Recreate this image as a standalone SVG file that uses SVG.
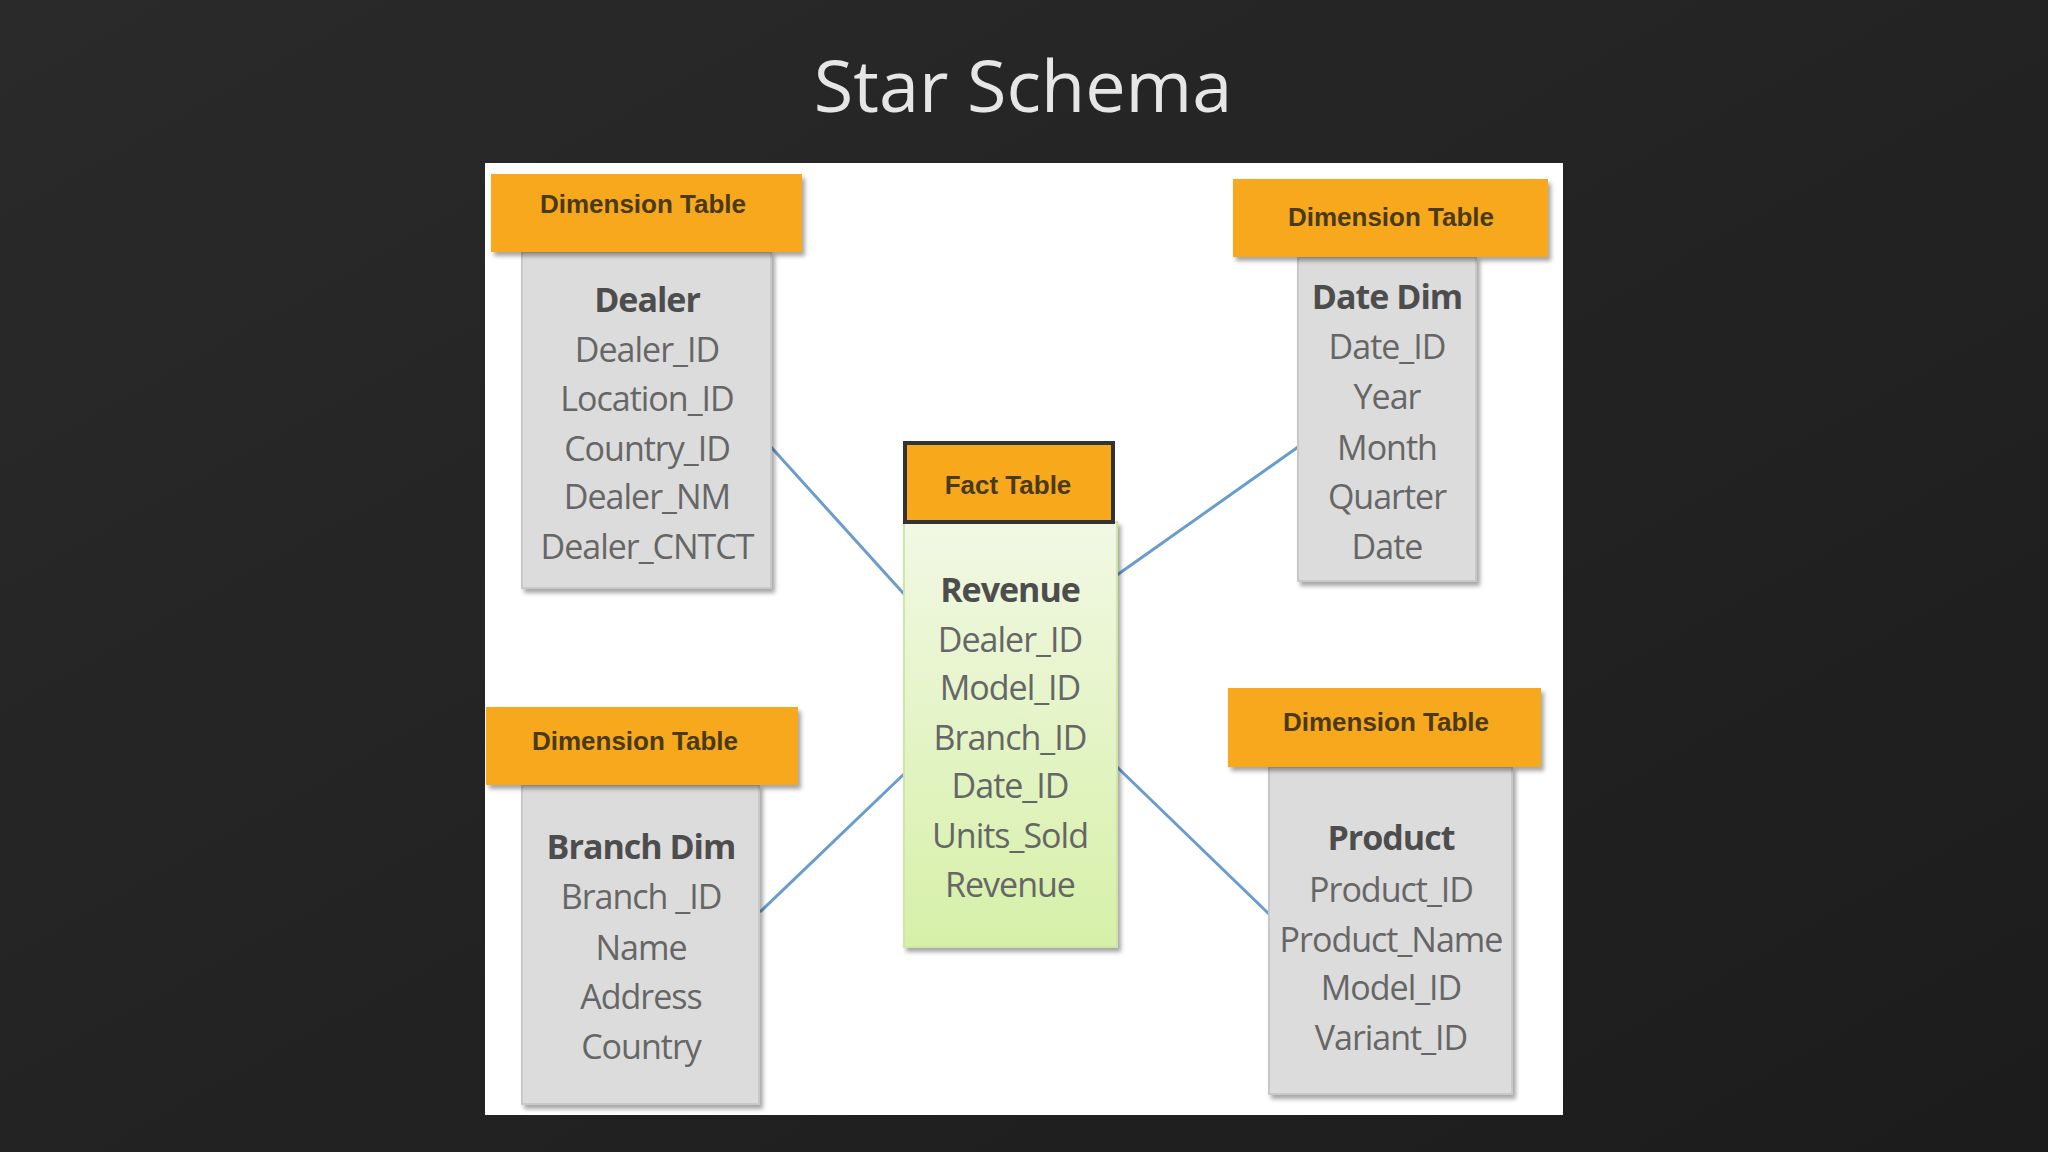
<svg xmlns="http://www.w3.org/2000/svg" width="2048" height="1152" viewBox="0 0 2048 1152">
<defs>
<linearGradient id="bg" x1="0" y1="0" x2="1" y2="1"><stop offset="0" stop-color="#2a2a2a"/><stop offset="1" stop-color="#1c1c1c"/></linearGradient>
<linearGradient id="fact" x1="0" y1="0" x2="0" y2="1"><stop offset="0" stop-color="#f2f8e4"/><stop offset="1" stop-color="#d6f0a8"/></linearGradient>
<filter id="sh" x="-10%" y="-10%" width="130%" height="130%"><feDropShadow dx="3" dy="4" stdDeviation="2" flood-color="#000" flood-opacity="0.35"/></filter>
</defs>
<style>
.hdr{fill:#f7a81b;filter:url(#sh)}
.body{fill:#dcdcdc;stroke:#c8c8c8;stroke-width:2;filter:url(#sh)}
.ht{font-family:"Liberation Sans",Arial,sans-serif;font-size:26px;font-weight:bold;fill:#4a3a1a;text-anchor:middle;dominant-baseline:central}
.t{font-family:"Open Sans","Liberation Sans",sans-serif;font-size:34px;fill:#666;text-anchor:middle;dominant-baseline:central;letter-spacing:-1px}
.b{font-weight:bold;fill:#4d4d4d}
.ln{stroke:#6a9ccc;stroke-width:3;fill:none}
</style>
<rect width="2048" height="1152" fill="url(#bg)"/>
<text x="1023" y="84" font-family="Open Sans,Liberation Sans,sans-serif" font-size="72" fill="#e6e6e6" text-anchor="middle" dominant-baseline="central">Star Schema</text>
<rect x="485" y="163" width="1078" height="952" fill="#ffffff"/>
<g id="connectors">
<line class="ln" x1="771" y1="447" x2="904" y2="594"/>
<line class="ln" x1="1117" y1="575" x2="1298" y2="447"/>
<line class="ln" x1="760" y1="912" x2="904" y2="774"/>
<line class="ln" x1="1117" y1="767" x2="1269" y2="914"/>
</g>
<g id="dealer">
<rect class="body" x="522" y="252" width="249" height="336"/>
<rect class="hdr" x="491" y="174" width="311" height="78"/>
<text class="ht" x="643" y="204">Dimension Table</text>
<text class="t b" x="647" y="299">Dealer</text>
<text class="t" x="647" y="349">Dealer_ID</text>
<text class="t" x="647" y="398">Location_ID</text>
<text class="t" x="647" y="448">Country_ID</text>
<text class="t" x="647" y="496">Dealer_NM</text>
<text class="t" x="647" y="546">Dealer_CNTCT</text>
</g>
<g id="date">
<rect class="body" x="1298" y="257" width="178" height="324"/>
<rect class="hdr" x="1233" y="179" width="315" height="78"/>
<text class="ht" x="1391" y="217">Dimension Table</text>
<text class="t b" x="1387" y="296">Date Dim</text>
<text class="t" x="1387" y="346">Date_ID</text>
<text class="t" x="1387" y="396">Year</text>
<text class="t" x="1387" y="447">Month</text>
<text class="t" x="1387" y="496">Quarter</text>
<text class="t" x="1387" y="546">Date</text>
</g>
<g id="fact">
<rect x="904" y="522" width="213" height="425" fill="url(#fact)" stroke="#cfe6a8" stroke-width="2" filter="url(#sh)"/>
<rect x="905" y="443" width="208" height="79" fill="#f7a81b" stroke="#333" stroke-width="4"/>
<text class="ht" x="1008" y="485">Fact Table</text>
<text class="t b" x="1010" y="589">Revenue</text>
<text class="t" x="1010" y="639">Dealer_ID</text>
<text class="t" x="1010" y="687">Model_ID</text>
<text class="t" x="1010" y="737">Branch_ID</text>
<text class="t" x="1010" y="785">Date_ID</text>
<text class="t" x="1010" y="835">Units_Sold</text>
<text class="t" x="1010" y="884">Revenue</text>
</g>
<g id="branch">
<rect class="body" x="522" y="785" width="237" height="319"/>
<rect class="hdr" x="486" y="707" width="312" height="78"/>
<text class="ht" x="635" y="741">Dimension Table</text>
<text class="t b" x="641" y="846">Branch Dim</text>
<text class="t" x="641" y="896">Branch _ID</text>
<text class="t" x="641" y="947">Name</text>
<text class="t" x="641" y="996">Address</text>
<text class="t" x="641" y="1046">Country</text>
</g>
<g id="product">
<rect class="body" x="1269" y="767" width="243" height="327"/>
<rect class="hdr" x="1228" y="688" width="313" height="79"/>
<text class="ht" x="1386" y="722">Dimension Table</text>
<text class="t b" x="1391" y="837">Product</text>
<text class="t" x="1391" y="889">Product_ID</text>
<text class="t" x="1391" y="939">Product_Name</text>
<text class="t" x="1391" y="987">Model_ID</text>
<text class="t" x="1391" y="1037">Variant_ID</text>
</g>
</svg>
